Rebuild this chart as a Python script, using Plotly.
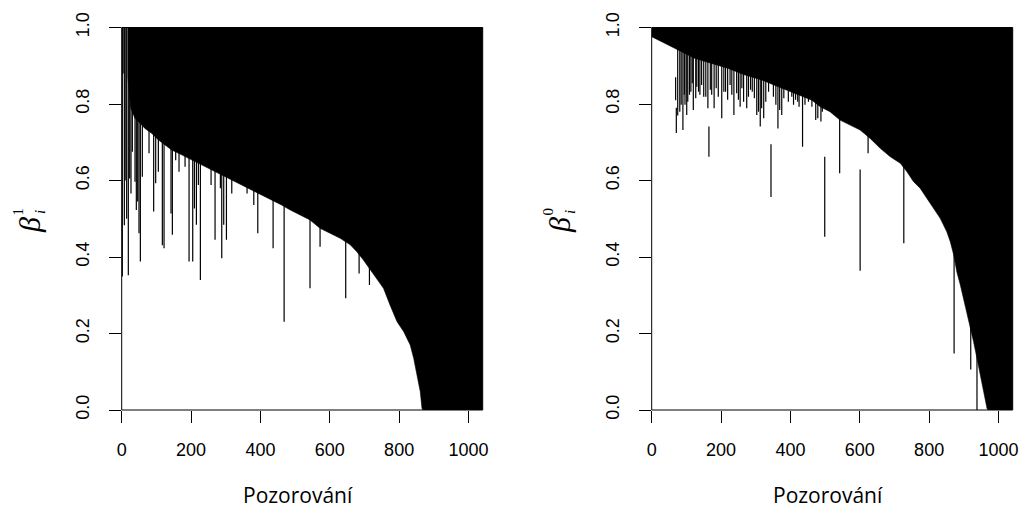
import plotly.graph_objects as go

# ---------------- data ----------------
N_OBS = 1041  # number of observations (x extent)

X_TICKS = [0, 200, 400, 600, 800, 1000]
Y_TICKS = [0.0, 0.2, 0.4, 0.6, 0.8, 1.0]
Y_TICK_LABELS = ["0.0", "0.2", "0.4", "0.6", "0.8", "1.0"]
X_TITLE = "Pozorování"

# Left panel (beta_i^1): lower edge of the dense band of intervals (upper end = 1)
L_env_x = [18, 18, 26, 29, 38, 53, 67, 87, 106, 125, 144, 173, 202, 231, 260, 289, 317,
           346, 375, 404, 433, 461, 486, 514, 543, 572, 601, 630, 659, 678, 697, 717,
           736, 755, 774, 794, 813, 832, 842, 851, 861, 866, 869]
L_env_y = [1.0, 0.87, 0.79, 0.784, 0.763, 0.750, 0.736, 0.723, 0.706, 0.693, 0.680, 0.667,
           0.654, 0.641, 0.628, 0.614, 0.601, 0.588, 0.575, 0.562, 0.549, 0.536, 0.523,
           0.510, 0.497, 0.475, 0.462, 0.449, 0.432, 0.414, 0.392, 0.366, 0.344, 0.318,
           0.274, 0.231, 0.205, 0.170, 0.135, 0.092, 0.048, 0.004, 0.0]
# Left panel: individual intervals sticking out below the band (upper end 1)
L_spk_x = [1.8, 4, 7.6, 10, 14.3, 19.1, 23.0, 26.8, 30.7, 38.4, 42.2, 46.1, 49.9, 53.8,
           59.5, 78.8, 92.2, 98, 105.7, 117.2, 122.1, 142.2, 146.1, 155.7, 165.3, 182.7,
           194.2, 204.8, 209.6, 215.4, 221.1, 226.9, 257.7, 269.2, 284.6, 288.5, 294.2,
           302, 317.4, 361.5, 380.9, 392.4, 436.6, 468.4, 543, 572, 646, 684.6, 714.4]
L_spk_lo = [0.349, 0.88, 0.483, 0.60, 0.50, 0.352, 0.605, 0.566, 0.675, 0.597, 0.523,
            0.545, 0.462, 0.388, 0.610, 0.671, 0.519, 0.593, 0.623, 0.431, 0.423, 0.514,
            0.458, 0.653, 0.623, 0.636, 0.388, 0.388, 0.527, 0.484, 0.588, 0.340, 0.588,
            0.445, 0.580, 0.397, 0.484, 0.445, 0.566, 0.566, 0.536, 0.462, 0.423, 0.231,
            0.318, 0.427, 0.292, 0.357, 0.327]
L_spk_hi = [1.0] * len(L_spk_x)

# Right panel (beta_i^0)
R_env_x = [0, 77, 125, 173, 221, 269, 317, 365, 414, 462, 486, 514, 543, 572, 601, 630,
           659, 688, 717, 736, 755, 774, 794, 813, 832, 851, 861, 871, 880, 890, 899, 909,
           919, 928, 938, 947, 957, 967, 970]
R_env_y = [0.976, 0.941, 0.919, 0.906, 0.893, 0.876, 0.863, 0.845, 0.828, 0.810, 0.793,
           0.780, 0.758, 0.745, 0.732, 0.710, 0.684, 0.662, 0.645, 0.623, 0.597, 0.580,
           0.553, 0.527, 0.501, 0.466, 0.440, 0.405, 0.361, 0.327, 0.292, 0.257, 0.222,
           0.179, 0.135, 0.092, 0.048, 0.004, 0.0]
R_spk_x = [69, 71, 75, 81, 85, 90, 96, 101, 109, 120, 127, 135, 150, 162, 165, 180, 202,
           213, 237, 255, 274, 290, 303, 313, 323, 344, 364, 375, 409, 425, 435, 473, 488,
           499, 542, 601, 624, 727, 872, 920, 938,
           94, 104, 113, 117, 130, 139, 144, 156, 169, 173, 186, 192, 208, 219, 226, 231,
           245, 250, 260, 265, 279, 285, 296, 308, 317, 329, 337, 351, 358, 369, 381, 394,
           404, 415, 421, 442, 452, 462, 479, 492]
R_spk_lo = [0.81, 0.724, 0.77, 0.78, 0.798, 0.732, 0.798, 0.771, 0.824, 0.784, 0.815,
            0.832, 0.819, 0.789, 0.662, 0.789, 0.763, 0.832, 0.771, 0.793, 0.789, 0.832,
            0.771, 0.741, 0.763, 0.557, 0.736, 0.771, 0.798, 0.793, 0.688, 0.758, 0.754,
            0.453, 0.619, 0.364, 0.671, 0.436, 0.148, 0.106, 0.0,
            0.824, 0.806, 0.832, 0.854, 0.845, 0.824, 0.850, 0.819, 0.837, 0.824, 0.841,
            0.819, 0.832, 0.811, 0.850, 0.824, 0.828, 0.811, 0.841, 0.806, 0.819, 0.837,
            0.815, 0.780, 0.789, 0.806, 0.832, 0.819, 0.798, 0.784, 0.815, 0.806, 0.819,
            0.811, 0.806, 0.798, 0.806, 0.793, 0.763, 0.780]
R_spk_hi = [0.87, 0.79, 1, 1, 1, 1, 1, 1, 1, 1, 1, 1, 1, 1, 0.741, 1, 1, 1, 1, 1, 1, 1,
            1, 1, 1, 0.695, 1, 1, 1, 1, 1, 1, 1, 0.662, 1, 0.629, 1, 1, 1, 1, 1] + [1.0] * 40

# ---------------- figure ----------------
W, H = 1026, 510
INK = "black"
TICK_FONT = dict(family="Liberation Sans, Arial, Helvetica, sans-serif", size=18, color=INK)


def band_trace(ex, ey, xa, ya):
    right = N_OBS * 1.01  # slightly past the axis end; clipped by the plot area
    px = list(ex) + [right, right, ex[0]]
    py = list(ey) + [-0.01, 1.01, 1.01]
    return go.Scatter(x=px, y=py, mode="lines", fill="toself", fillcolor=INK,
                      line=dict(color=INK, width=0.6), xaxis=xa, yaxis=ya,
                      hoverinfo="skip")


def spike_trace(sx, lo, hi, xa, ya):
    xs, ys = [], []
    for x, a, b in zip(sx, lo, hi):
        xs += [x, x, None]
        ys += [a, b, None]
    return go.Scatter(x=xs, y=ys, mode="lines", line=dict(color=INK, width=1.2),
                      xaxis=xa, yaxis=ya, hoverinfo="skip")


fig = go.Figure()
fig.add_trace(band_trace(L_env_x, L_env_y, "x", "y"))
fig.add_trace(spike_trace(L_spk_x, L_spk_lo, L_spk_hi, "x", "y"))
fig.add_trace(band_trace(R_env_x, R_env_y, "x2", "y2"))
fig.add_trace(spike_trace(R_spk_x, R_spk_lo, R_spk_hi, "x2", "y2"))

# plot-area pixel boxes
LX0, LX1 = 121.7, 482.7
RX0, RX1 = 651.7, 1012.7
YT, YB = 27.5, 410.0


def xax(x0, x1, anchor):
    return dict(domain=[x0 / W, x1 / W], range=[0, N_OBS], tickvals=X_TICKS,
                ticks="outside", ticklen=12, tickwidth=1, tickcolor=INK,
                showline=False, showgrid=False, zeroline=False, tickfont=TICK_FONT,
                anchor=anchor, ticklabelstandoff=11, fixedrange=True, automargin=False)


def yax(anchor):
    return dict(domain=[1 - YB / H, 1 - YT / H], range=[0, 1], tickvals=Y_TICKS,
                ticktext=Y_TICK_LABELS, tickangle=-90,
                ticks="outside", ticklen=12, tickwidth=1, tickcolor=INK,
                showline=False, showgrid=False, zeroline=False, tickfont=TICK_FONT,
                anchor=anchor, ticklabelstandoff=13, fixedrange=True, automargin=False)


def ann(text, px, py, size, family, angle=-90):
    return dict(text=text, x=px / W, y=1 - py / H, xref="paper", yref="paper",
                xanchor="center", yanchor="middle", showarrow=False, textangle=angle,
                font=dict(size=size, family=family, color=INK), borderpad=0)


def box(xr, yr):
    return dict(type="rect", xref=xr + " domain", yref=yr + " domain",
                x0=0, x1=1, y0=0, y1=1, line=dict(color=INK, width=1), layer="above")


SERIF = "Liberation Serif, DejaVu Serif, serif"
TITLE_FONT = "Open Sans, Lato, sans-serif"
annotations = [
    ann(X_TITLE, (LX0 + LX1) / 2 - 4, 495, 21, TITLE_FONT, angle=0),
    ann(X_TITLE, (RX0 + RX1) / 2 - 4, 495, 21, TITLE_FONT, angle=0),
    ann("<i>β</i>", 29, 225, 30, SERIF),
    ann("1", 17.5, 212, 15, SERIF),
    ann("<i>i</i>", 40, 212, 15, SERIF),
    ann("<i>β</i>", 559, 225, 30, SERIF),
    ann("0", 547.5, 212, 15, SERIF),
    ann("<i>i</i>", 570, 212, 15, SERIF),
]

fig.update_layout(
    width=W, height=H, margin=dict(l=0, r=0, t=0, b=0, autoexpand=False),
    paper_bgcolor="white", plot_bgcolor="white", showlegend=False,
    xaxis=xax(LX0, LX1, "y"), yaxis=yax("x"),
    xaxis2=xax(RX0, RX1, "y2"), yaxis2=yax("x2"),
    annotations=annotations,
    shapes=[box("x", "y"), box("x2", "y2")],
)

fig.write_html("out.html")
